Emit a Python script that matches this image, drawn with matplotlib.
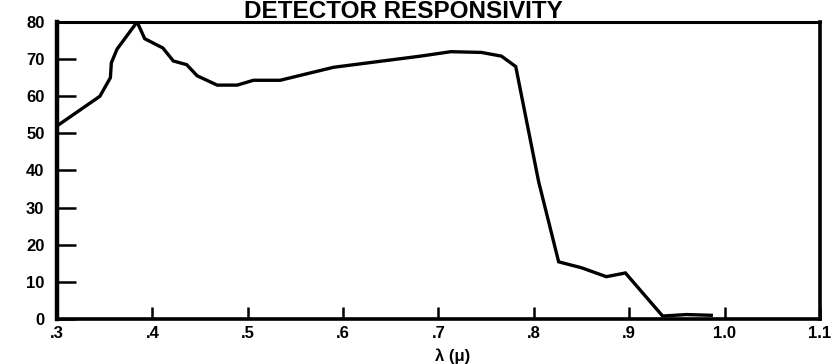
import matplotlib
matplotlib.use("Agg")
import matplotlib.pyplot as plt

wavelength = [0.300, 0.345, 0.356, 0.357, 0.363, 0.384, 0.392, 0.411, 0.422, 0.436,
              0.447, 0.468, 0.489, 0.506, 0.534, 0.590, 0.681, 0.713, 0.745, 0.766,
              0.781, 0.805, 0.826, 0.850, 0.876, 0.896, 0.935, 0.960, 0.986]
responsivity = [52, 60, 65, 69, 72.7, 80, 75.5, 73, 69.5, 68.5,
                65.5, 63, 63, 64.3, 64.3, 67.8, 70.8, 72, 71.8, 70.8,
                68, 37, 15.4, 13.8, 11.4, 12.4, 0.8, 1.2, 1.0]
x_ticks = [0.3, 0.4, 0.5, 0.6, 0.7, 0.8, 0.9, 1.0, 1.1]
x_tick_labels = [".3", ".4", ".5", ".6", ".7", ".8", ".9", "1.0", "1.1"]
y_ticks = [0, 10, 20, 30, 40, 50, 60, 70, 80]

plt.rcParams['font.family'] = ['Liberation Sans', 'DejaVu Sans']

fig = plt.figure(figsize=(8.38, 3.64), dpi=100)
ax = fig.add_axes([0.068, 0.1236, 0.9105, 0.816])
ax.plot(wavelength, responsivity, color='black', lw=2.4, solid_joinstyle='miter')
ax.set_xlim(0.3, 1.1)
ax.set_ylim(0, 80)
ax.set_xticks(x_ticks)
ax.set_xticklabels(x_tick_labels, fontsize=12, fontweight='bold')
ax.set_yticks(y_ticks)
ax.set_yticklabels([str(v) for v in y_ticks], fontsize=12, fontweight='bold')
ax.tick_params(axis='y', direction='in', length=14, width=1.8, pad=9)
ax.tick_params(axis='x', direction='in', length=9, width=1.8, pad=5)
for side, w in [('left', 3.2), ('bottom', 2.6), ('top', 2.2), ('right', 2.6)]:
    ax.spines[side].set_linewidth(w)

fig.text(0.54, 0.0, "λ (μ)", ha='center', va='bottom', fontsize=12, fontweight='bold')
fig.text(0.482, 0.999, "DETECTOR RESPONSIVITY", ha='center', va='top',
         fontsize=17.5, fontweight='bold')

fig.savefig("out.png", dpi=100)
